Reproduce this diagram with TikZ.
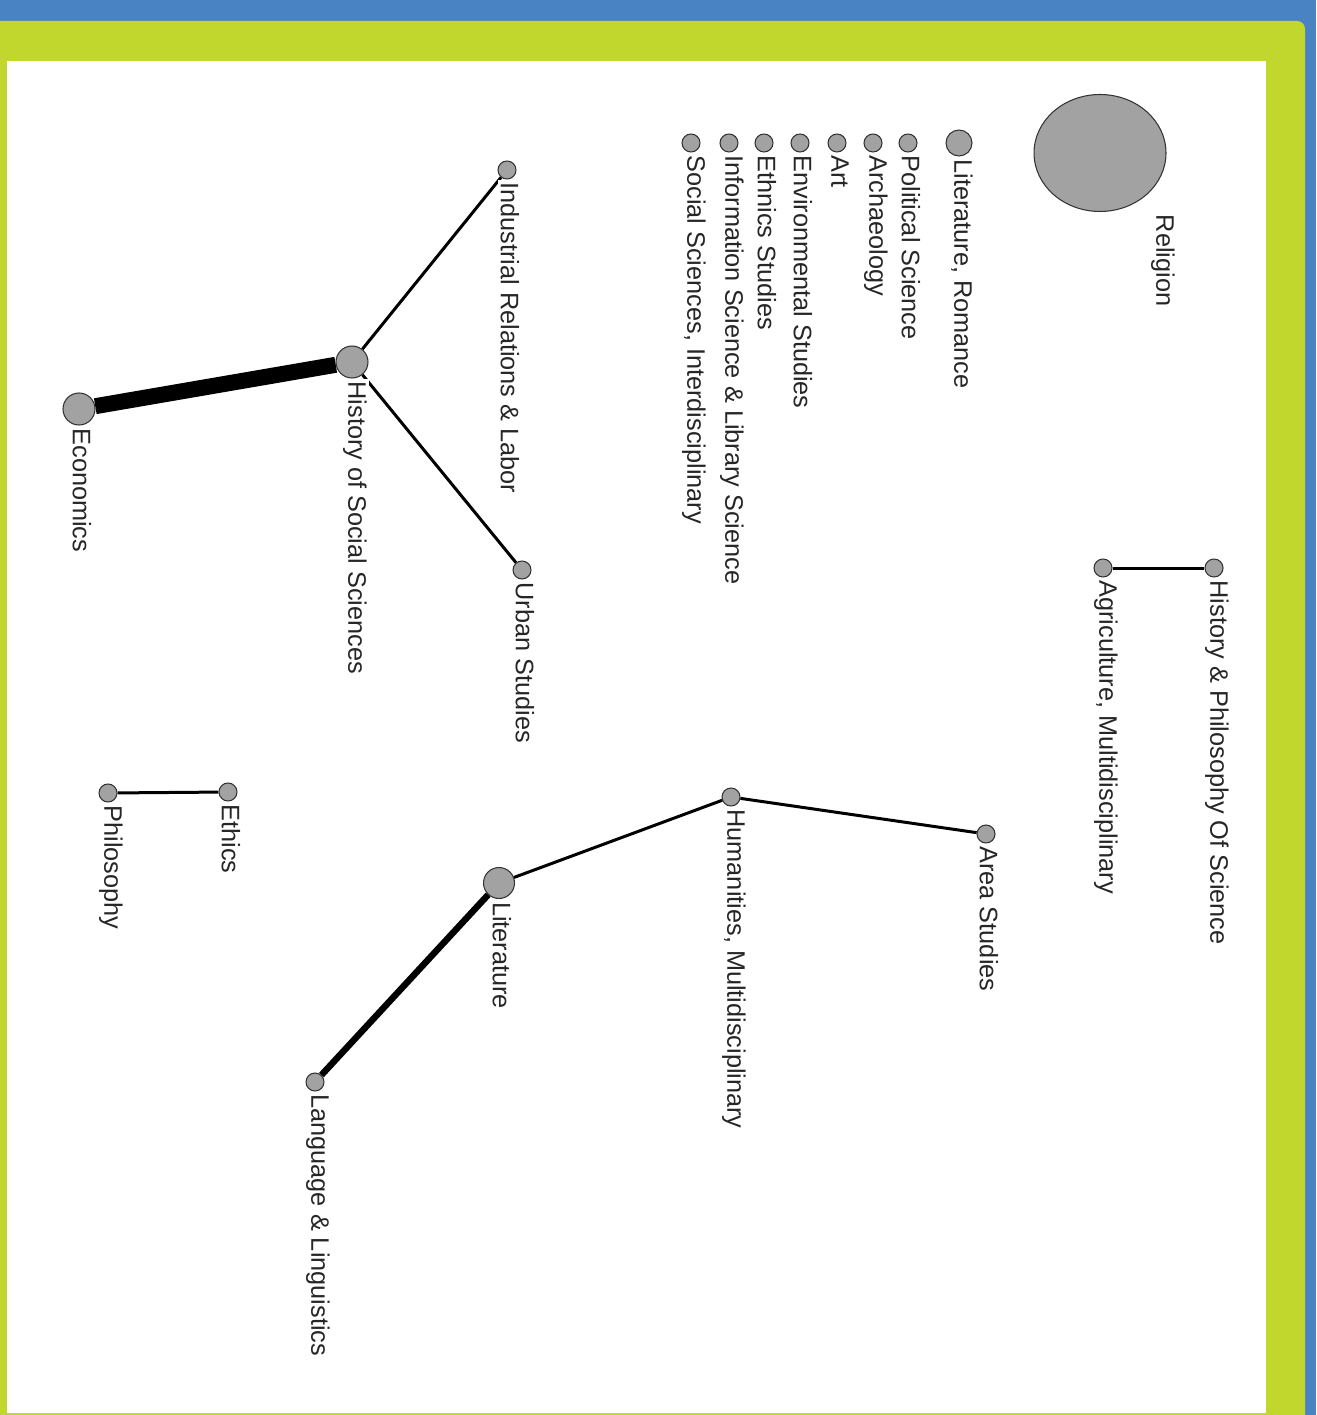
\documentclass[tikz,border=0pt]{standalone}
\usepackage{fontspec}
\setmainfont{Liberation Sans}
\usetikzlibrary{shapes.geometric}

\definecolor{bgblue}{RGB}{74,131,195}
\definecolor{framegreen}{RGB}{194,215,46}
\definecolor{nodegray}{RGB}{162,162,162}

\begin{document}
\begin{tikzpicture}[x=0.02cm, y=-0.02cm,
  topic/.style={circle, draw=black!80, fill=nodegray, line width=0.6pt, inner sep=0pt, minimum size=#1},
  topic/.default=0.36cm,
  lbl/.style={xshift=0.06cm, rotate=-90, anchor=west, fill=white, inner sep=1.5pt, text=black!85, font=\fontsize{14.4}{16}\selectfont},
  link/.style={line width=0.06cm, black}]

% Frame
\useasboundingbox (0,0) rectangle (1316,1415);
\clip (0,0) rectangle (1316,1415);
\fill[bgblue] (0,0) rectangle (1316,1415);
\fill[framegreen, rounded corners=4.5pt] (-20,21) rectangle (1305,1440);
\fill[white] (7,61) rectangle (1266,1413);

% Nodes
\node[topic, ellipse, minimum width=2.64cm, minimum height=2.34cm] (religion) at (1100,153) {};
\node[topic=0.52cm] (litrom) at (959,143) {};
\node[topic] (polsci) at (908,143) {};
\node[topic] (archae) at (873,143) {};
\node[topic] (art) at (837,143) {};
\node[topic] (envst) at (800,143) {};
\node[topic] (ethst) at (764,143) {};
\node[topic] (infsci) at (729,143) {};
\node[topic] (socsci) at (691,143) {};

\node[topic] (irl) at (507,170) {};
\node[topic=0.64cm] (hss) at (352,362) {};
\node[topic=0.64cm] (econ) at (79,409) {};
\node[topic] (urban) at (522,570) {};

\node[topic] (hps) at (1214,568) {};
\node[topic] (agri) at (1103,568) {};

\node[topic] (area) at (986,834) {};
\node[topic] (hum) at (731,797) {};
\node[topic=0.62cm] (lit) at (499,883) {};
\node[topic] (lang) at (315,1082) {};

\node[topic] (ethics) at (228,792) {};
\node[topic] (philo) at (108,793) {};

% Links
\draw[link] (hss) -- (irl);
\draw[link] (hss) -- (urban);
\draw[link, line width=0.32cm] (hss) -- (econ);
\draw[link] (hps) -- (agri);
\draw[link] (area) -- (hum);
\draw[link] (hum) -- (lit);
\draw[link, line width=0.13cm] (lit) -- (lang);
\draw[link] (ethics) -- (philo);

% Labels
\node[lbl] (religion-l) at ([xshift=1.2cm]religion.south) {Religion};
\node[lbl] (litrom-l) at (litrom.south) {Literature, Romance};
\node[lbl] (polsci-l) at (polsci.south) {Political Science};
\node[lbl] (archae-l) at (archae.south) {Archaeology};
\node[lbl] (art-l) at (art.south) {Art};
\node[lbl] (envst-l) at (envst.south) {Environmental Studies};
\node[lbl] (ethst-l) at (ethst.south) {Ethnics Studies};
\node[lbl] (infsci-l) at (infsci.south) {Information Science \& Library Science};
\node[lbl] (socsci-l) at (socsci.south) {Social Sciences, Interdisciplinary};
\node[lbl] (irl-l) at (irl.south) {Industrial Relations \& Labor};
\node[lbl] (hss-l) at (hss.south) {History of Social Sciences};
\node[lbl] (econ-l) at (econ.south) {Economics};
\node[lbl] (urban-l) at (urban.south) {Urban Studies};
\node[lbl] (hps-l) at (hps.south) {History \& Philosophy Of Science};
\node[lbl] (agri-l) at (agri.south) {Agriculture, Multidisciplinary};
\node[lbl] (area-l) at (area.south) {Area Studies};
\node[lbl] (hum-l) at (hum.south) {Humanities, Multidisciplinary};
\node[lbl] (lit-l) at (lit.south) {Literature};
\node[lbl] (lang-l) at (lang.south) {Language \& Linguistics};
\node[lbl] (ethics-l) at (ethics.south) {Ethics};
\node[lbl] (philo-l) at (philo.south) {Philosophy};

\end{tikzpicture}
\end{document}
